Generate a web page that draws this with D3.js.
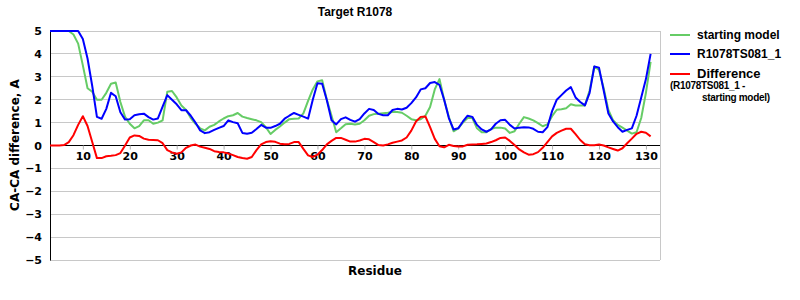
<!DOCTYPE html>
<html><head><meta charset="utf-8">
<script src="https://cdn.jsdelivr.net/npm/d3@7"></script>
<style>body{margin:0;background:#fff}svg{display:block}</style>
</head><body>
<svg id="c" width="800" height="300"></svg>
<script>
const startResidue = 3;
const starting = [5,5,5,5,5,4.85,4.45,3.5,2.5,2.35,2.0,2.0,2.3,2.7,2.75,1.9,1.25,0.95,0.75,0.85,1.1,1.1,0.95,1.0,1.1,2.35,2.38,2.1,1.75,1.55,1.2,0.95,0.75,0.66,0.82,0.9,1.05,1.18,1.28,1.32,1.42,1.26,1.2,1.15,1.1,1.02,0.8,0.5,0.68,0.83,1.0,1.15,1.17,1.18,1.4,1.95,2.45,2.8,2.85,2.0,1.3,0.58,0.75,0.93,0.95,0.92,0.95,1.1,1.3,1.37,1.39,1.41,1.43,1.46,1.46,1.43,1.3,1.15,1.1,1.15,1.3,1.68,2.45,2.9,2.0,1.25,0.62,0.75,1.0,1.2,1.2,0.75,0.58,0.58,0.72,0.78,0.78,0.74,0.55,0.62,0.95,1.24,1.18,1.1,0.98,0.84,0.92,1.28,1.56,1.58,1.63,1.8,1.75,1.75,1.75,2.4,3.45,3.3,2.5,1.55,1.1,0.9,0.78,0.65,0.52,0.58,1.2,2.3,3.65];
const model = [5,5,5,5,5,5,5,4.65,3.8,2.6,1.25,1.17,1.6,2.3,2.15,1.45,1.13,1.15,1.32,1.36,1.39,1.24,1.13,1.18,1.7,2.2,2.0,1.8,1.54,1.54,1.3,1.0,0.66,0.54,0.58,0.68,0.77,0.85,1.1,1.02,0.97,0.55,0.51,0.56,0.72,0.9,0.78,0.77,0.85,0.95,1.17,1.3,1.42,1.34,1.26,1.17,2.0,2.72,2.7,1.98,1.1,0.92,1.15,1.23,1.12,1.04,1.15,1.4,1.6,1.55,1.38,1.32,1.32,1.55,1.6,1.57,1.65,1.85,2.1,2.45,2.5,2.73,2.77,2.65,2.0,1.2,0.7,0.75,1.05,1.3,1.25,0.9,0.7,0.6,0.7,0.95,1.1,1.12,0.9,0.74,0.78,0.8,0.79,0.73,0.6,0.58,0.8,1.5,2.0,2.2,2.4,2.55,2.1,1.9,1.75,2.3,3.45,3.4,2.4,1.4,1.05,0.8,0.6,0.68,0.75,1.3,2.1,2.9,4.0];
const difference = [0,0,0,0.02,0.15,0.45,0.9,1.28,0.85,0.15,-0.55,-0.55,-0.47,-0.45,-0.42,-0.33,0,0.35,0.44,0.42,0.3,0.25,0.24,0.23,0.1,-0.2,-0.3,-0.36,-0.3,-0.1,0,0.04,-0.05,-0.1,-0.15,-0.25,-0.28,-0.3,-0.35,-0.42,-0.5,-0.55,-0.58,-0.5,-0.2,0.05,0.15,0.19,0.16,0.08,0.05,0.07,0.15,0.15,-0.15,-0.43,-0.5,-0.4,-0.2,0.05,0.2,0.33,0.33,0.25,0.17,0.17,0.22,0.29,0.27,0.15,0.02,0,0.05,0.12,0.17,0.22,0.35,0.65,1.05,1.25,1.27,0.8,0.29,-0.03,-0.08,0.03,-0.02,-0.04,-0.04,0.03,0.04,0.05,0.07,0.09,0.15,0.23,0.33,0.35,0.2,0.02,-0.17,-0.3,-0.4,-0.38,-0.29,-0.1,0.15,0.4,0.55,0.65,0.73,0.73,0.5,0.24,0.05,0.01,0.01,0.04,0,-0.08,-0.15,-0.22,-0.12,0.1,0.3,0.51,0.6,0.56,0.4];
const xTicks = [10,20,30,40,50,60,70,80,90,100,110,120,130];
const yTicks = [-5,-4,-3,-2,-1,0,1,2,3,4,5];
const seriesNames = ["starting model","R1078TS081_1","Difference"];
const seriesColors = ["#66cc66","#0000ff","#ff0000"];

const svg = d3.select("#c");
const L = 50, R = 660, T = 31, B = 260;
const x = d3.scaleLinear().domain([3, 133]).range([L, R]);
const y = d3.scaleLinear().domain([-5, 5]).range([B, T]);
const tickFont = "'DejaVu Sans', Verdana, sans-serif";
const txtFont = "'Liberation Sans', Arial, sans-serif";

// gridlines
svg.append("g").selectAll("line").data(yTicks.filter(d => d !== 0)).join("line")
  .attr("x1", L).attr("x2", R).attr("y1", d => y(d)).attr("y2", d => y(d))
  .attr("stroke", "#c8c8c8").attr("stroke-width", 1).attr("shape-rendering","crispEdges");
svg.append("line").attr("x1", R).attr("x2", R).attr("y1", T).attr("y2", B)
  .attr("stroke", "#c8c8c8").attr("shape-rendering","crispEdges");

// y axis
const yAxis = svg.append("g").attr("transform", `translate(${L},0)`)
  .call(d3.axisLeft(y).tickValues(yTicks).tickSize(0).tickPadding(8).tickFormat(d3.format("d")));
yAxis.select(".domain").attr("stroke", "#000");
yAxis.selectAll("text").attr("font-family", tickFont).attr("font-weight", "bold").attr("font-size", 11).attr("fill","#000");

// x axis at zero
const xAxis = svg.append("g").attr("transform", `translate(0,${y(0)})`)
  .call(d3.axisBottom(x).tickValues(xTicks).tickSize(4).tickPadding(3).tickFormat(d3.format("d")));
xAxis.select(".domain").attr("stroke", "#000").attr("d", `M${L},0H${R}`);
xAxis.selectAll(".tick line").attr("stroke", "#b0b0b0");
xAxis.selectAll("text").attr("font-family", tickFont).attr("font-weight", "bold").attr("font-size", 11).attr("fill","#000");

// lines
const line = d3.line().x((d, i) => x(startResidue + i)).y(d => y(d));
[starting, model, difference].forEach((s, k) => {
  svg.append("path").datum(s).attr("d", line).attr("fill", "none")
    .attr("stroke", seriesColors[k]).attr("stroke-width", 2).attr("stroke-linejoin","round");
});

// titles
svg.append("text").attr("x", 355).attr("y", 16).attr("text-anchor","middle")
  .attr("font-family", txtFont).attr("font-weight","bold").attr("font-size", 12).text("Target R1078");
svg.append("text").attr("x", 375).attr("y", 275).attr("text-anchor","middle")
  .attr("font-family", tickFont).attr("font-weight","bold").attr("font-size", 12).text("Residue");
svg.append("text").attr("transform", "translate(19,145) rotate(-90)").attr("text-anchor","middle")
  .attr("font-family", tickFont).attr("font-weight","bold").attr("font-size", 12).text("CA-CA difference, A");

// legend
const ly = [35, 54, 74];
seriesNames.forEach((n, k) => {
  svg.append("line").attr("x1", 670).attr("x2", 690).attr("y1", ly[k]).attr("y2", ly[k])
    .attr("stroke", seriesColors[k]).attr("stroke-width", 2);
  svg.append("text").attr("x", 697).attr("y", ly[k] + 4).attr("font-family", txtFont)
    .attr("font-weight","bold").attr("font-size", k === 2 ? 13 : 12).text(n);
});
svg.append("text").attr("x", 670).attr("y", 89).attr("font-family", txtFont)
  .attr("font-weight","bold").attr("font-size", 10).attr("letter-spacing", -0.3).text("(R1078TS081_1 -");
svg.append("text").attr("x", 702).attr("y", 101).attr("font-family", txtFont)
  .attr("font-weight","bold").attr("font-size", 10).attr("letter-spacing", -0.3).text("starting model)");
</script>
</body></html>
